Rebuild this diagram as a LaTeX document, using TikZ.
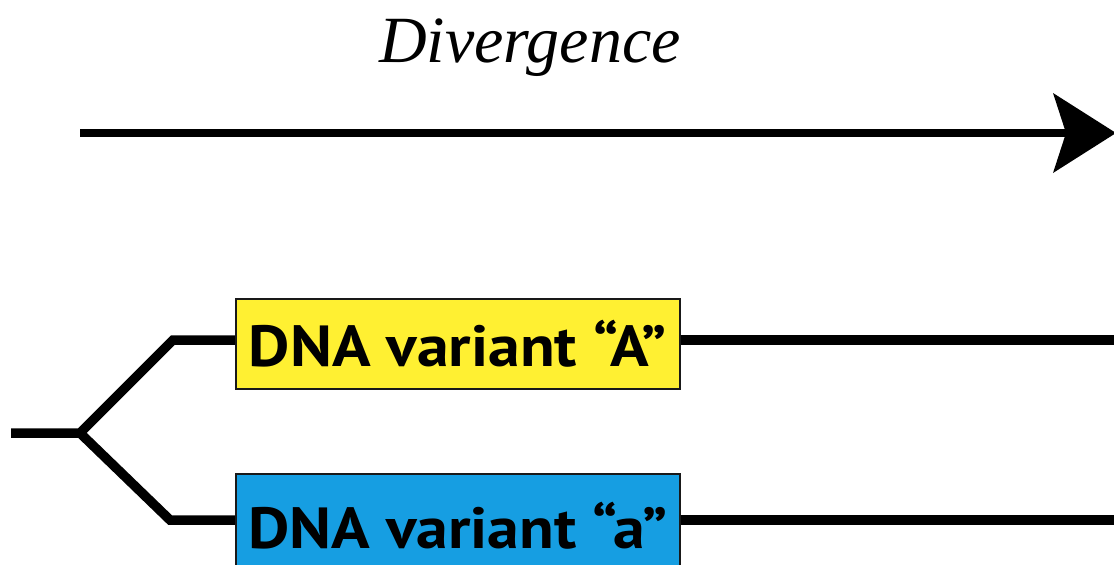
\documentclass[tikz,border=0pt]{standalone}
\usepackage{fontspec}
\setmainfont{Liberation Serif}
\newfontfamily\boxfont{PT Sans}
\usetikzlibrary{arrows.meta}
\definecolor{varYellow}{RGB}{255,240,50}
\definecolor{varBlue}{RGB}{22,158,226}
\newcommand{\widetxt}[1]{\scalebox{1.1}[1]{#1}}
\tikzset{
  thick line/.style={line width=9.5pt, black},
  variant/.style={draw=black!90, line width=2.8pt, minimum width=444pt, minimum height=90pt,
    inner sep=0pt, font=\boxfont\bfseries\fontsize{58}{60}\selectfont, text=black},
}
\begin{document}
\begin{tikzpicture}[x=1pt,y=-1pt]
\useasboundingbox (0,0) rectangle (1114,565);
% divergence arrow
\node[anchor=base, font=\itshape\fontsize{66}{70}\selectfont] (title) at (530,62) {Divergence};
\coordinate (arrS) at (80,133);
\coordinate (arrE) at (1116,133);
\draw[line width=8.5pt, -{Stealth[length=63pt,width=80pt,inset=13pt,line width=0pt]}] (arrS) -- (arrE);
% tree
\coordinate (root) at (11,433);
\coordinate (fork) at (80,433);
\coordinate (upA) at (173,340);
\coordinate (dnB) at (170,520);
\coordinate (endA) at (1114,340);
\coordinate (endB) at (1114,520);
\coordinate (boxAc) at (458,344);
\coordinate (boxBc) at (458,526);
\draw[thick line] (root) -- (fork) -- (upA) -- (boxAc |- upA);
\draw[thick line] (fork) -- (dnB) -- (boxBc |- dnB);
\draw[thick line] (boxAc |- endA) -- (endA);
\draw[thick line] (boxBc |- endB) -- (endB);
% boxes on top of the lines
\node[variant, fill=varYellow] (boxA) at (boxAc) {\widetxt{DNA variant \textquotedblleft A\textquotedblright}};
\node[variant, fill=varBlue, minimum height=104pt] (boxB) at (boxBc) {\widetxt{DNA variant \textquotedblleft a\textquotedblright}};
\end{tikzpicture}
\end{document}
